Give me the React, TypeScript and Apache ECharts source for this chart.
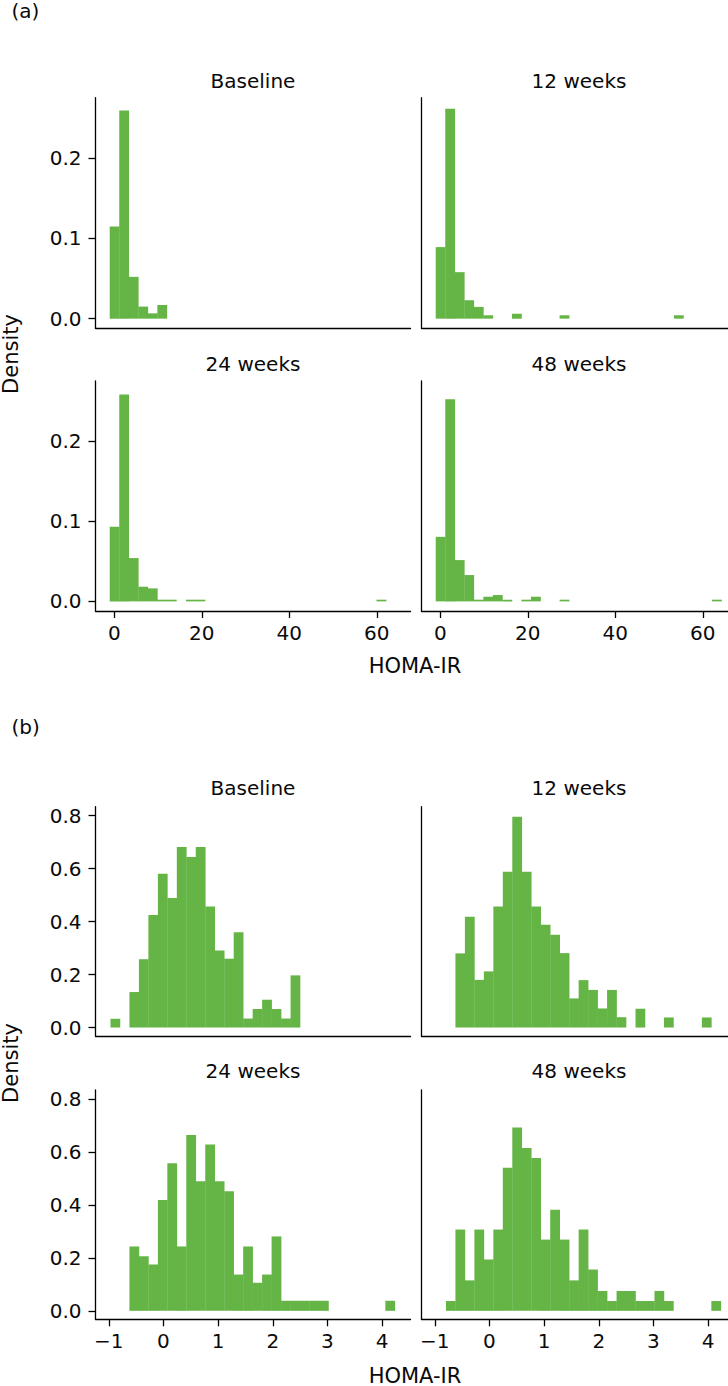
import { useEffect, useRef } from 'react';
import * as echarts from 'echarts';

const FACETS = ['Baseline', '12 weeks', '24 weeks', '48 weeks'];

// ---- Panel (a): HOMA-IR histograms (density), 30 shared bins ----
const A_BIN_START = -1.05;
const A_BIN_WIDTH = 2.178;
const A_BASELINE = [0.1146, 0.259, 0.052, 0.015, 0.0066, 0.017, 0, 0, 0, 0, 0, 0, 0, 0, 0, 0, 0, 0, 0, 0, 0, 0, 0, 0, 0, 0, 0, 0, 0, 0];
const A_WEEK12 = [0.089, 0.261, 0.0578, 0.0229, 0.0146, 0.0042, 0, 0, 0.0062, 0, 0, 0, 0, 0.0042, 0, 0, 0, 0, 0, 0, 0, 0, 0, 0, 0, 0.0042, 0, 0, 0, 0];
const A_WEEK24 = [0.093, 0.258, 0.054, 0.0183, 0.0162, 0.0021, 0.0021, 0, 0.0021, 0.0021, 0, 0, 0, 0, 0, 0, 0, 0, 0, 0, 0, 0, 0, 0, 0, 0, 0, 0, 0.0021, 0];
const A_WEEK48 = [0.0805, 0.252, 0.0515, 0.0328, 0.0021, 0.0058, 0.0079, 0.0021, 0, 0.0021, 0.0058, 0, 0, 0.0021, 0, 0, 0, 0, 0, 0, 0, 0, 0, 0, 0, 0, 0, 0, 0, 0.0021];
const A_X_TICKS = [0, 20, 40, 60];
const A_Y_TICKS = [0, 0.1, 0.2];

// ---- Panel (b): log HOMA-IR histograms (density), 30 shared bins ----
const B_BIN_START = -0.969;
const B_BIN_WIDTH = 0.1734;
const B_BASELINE = [0.033, 0, 0.134, 0.258, 0.425, 0.581, 0.489, 0.682, 0.644, 0.682, 0.457, 0.291, 0.26, 0.36, 0.034, 0.07, 0.105, 0.07, 0.034, 0.197, 0, 0, 0, 0, 0, 0, 0, 0, 0, 0];
const B_WEEK12 = [0, 0, 0.28, 0.418, 0.18, 0.212, 0.457, 0.588, 0.796, 0.588, 0.457, 0.388, 0.35, 0.281, 0.11, 0.179, 0.142, 0.072, 0.142, 0.039, 0, 0.071, 0, 0, 0.038, 0, 0, 0, 0.038, 0];
const B_WEEK24 = [0, 0, 0.243, 0.206, 0.175, 0.419, 0.557, 0.243, 0.664, 0.489, 0.628, 0.489, 0.452, 0.137, 0.243, 0.106, 0.137, 0.281, 0.038, 0.038, 0.038, 0.038, 0.038, 0, 0, 0, 0, 0, 0, 0.038];
const B_WEEK48 = [0, 0.037, 0.307, 0.115, 0.307, 0.194, 0.307, 0.54, 0.692, 0.615, 0.577, 0.269, 0.382, 0.269, 0.115, 0.307, 0.156, 0.075, 0.037, 0.075, 0.075, 0.037, 0.037, 0.075, 0.037, 0, 0, 0, 0, 0.037];
const B_X_TICKS = [-1, 0, 1, 2, 3, 4];
const B_Y_TICKS = [0, 0.2, 0.4, 0.6, 0.8];

const GREEN = '#64b446';
const INK = '#0a0a0a';
const FONT = 'DejaVu Sans';

const FIGURES = [
  {
    label: '(a)', labelY: 11,
    series: [A_BASELINE, A_WEEK12, A_WEEK24, A_WEEK48],
    binStart: A_BIN_START, binWidth: A_BIN_WIDTH,
    xMin: -4.3, xMax: 67.7, yMin: -0.012, yMax: 0.2748,
    xTicks: A_X_TICKS, yTicks: A_Y_TICKS,
    rows: [{ top: 97.7, h: 230.6, titleY: 80.7 }, { top: 381, h: 230, titleY: 363.7 }],
    densityY: 354, xTitleY: 665.6,
  },
  {
    label: '(b)', labelY: 727,
    series: [B_BASELINE, B_WEEK12, B_WEEK24, B_WEEK48],
    binStart: B_BIN_START, binWidth: B_BIN_WIDTH,
    xMin: -1.243, xMax: 4.52, yMin: -0.032, yMax: 0.834,
    xTicks: B_X_TICKS, yTicks: B_Y_TICKS,
    rows: [{ top: 806.7, h: 229.3, titleY: 788.3 }, { top: 1090, h: 229.3, titleY: 1071.3 }],
    densityY: 1063, xTitleY: 1375.5,
  },
];

const COLS = [95.5, 421.5];
const PANEL_W = 315;

function fmtX(v: number) {
  return v < 0 ? '\u2212' + Math.abs(v) : String(v);
}

function buildOption() {
  const grid: any[] = [];
  const xAxis: any[] = [];
  const yAxis: any[] = [];
  const series: any[] = [];
  const graphic: any[] = [];
  const textStyle = (size: number) => ({ fill: INK, font: `${size}px "${FONT}"` });

  FIGURES.forEach((fig) => {
    graphic.push({
      type: 'text', x: 11.5, y: fig.labelY,
      style: { ...textStyle(20), text: fig.label, textAlign: 'left', textVerticalAlign: 'middle' },
    });
    graphic.push({
      type: 'text', x: 11, y: fig.densityY, rotation: Math.PI / 2,
      style: { ...textStyle(21), text: 'Density', textAlign: 'center', textVerticalAlign: 'middle' },
    });
    graphic.push({
      type: 'text', x: 415, y: fig.xTitleY,
      style: { ...textStyle(21), text: 'HOMA-IR', textAlign: 'center', textVerticalAlign: 'middle' },
    });

    fig.series.forEach((vals, i) => {
      const row = fig.rows[i >> 1];
      const rowIdx = i >> 1;
      const col = i & 1;
      const gi = grid.length;
      grid.push({ left: COLS[col], top: row.top, width: PANEL_W, height: row.h, containLabel: false });
      graphic.push({
        type: 'text', x: COLS[col] + PANEL_W / 2, y: row.titleY,
        style: { ...textStyle(20), text: FACETS[i], textAlign: 'center', textVerticalAlign: 'middle' },
      });
      xAxis.push({
        type: 'value', gridIndex: gi, min: fig.xMin, max: fig.xMax,
        axisLine: { show: true, onZero: false, lineStyle: { color: '#000', width: 1.3 } },
        axisTick: { show: rowIdx === 1, length: 7, customValues: fig.xTicks, lineStyle: { color: '#000', width: 1.3 } },
        axisLabel: {
          show: rowIdx === 1, customValues: fig.xTicks, fontSize: 20, fontFamily: FONT, color: INK,
          margin: 12, formatter: (v: number) => fmtX(v),
        },
        splitLine: { show: false },
      });
      yAxis.push({
        type: 'value', gridIndex: gi, min: fig.yMin, max: fig.yMax,
        axisLine: { show: true, onZero: false, lineStyle: { color: '#000', width: 1.3 } },
        axisTick: { show: col === 0, length: 7, customValues: fig.yTicks, lineStyle: { color: '#000', width: 1.3 } },
        axisLabel: {
          show: col === 0, customValues: fig.yTicks, fontSize: 20, fontFamily: FONT, color: INK,
          margin: 14, formatter: (v: number) => v.toFixed(1),
        },
        splitLine: { show: false },
      });
      const data = vals
        .map((d, k) => [fig.binStart + k * fig.binWidth, fig.binStart + (k + 1) * fig.binWidth, d])
        .filter((d) => d[2] > 0);
      series.push({
        type: 'custom', name: FACETS[i], xAxisIndex: gi, yAxisIndex: gi,
        encode: { x: [0, 1], y: 2 },
        data,
        renderItem: (_p: any, api: any) => {
          const a = api.coord([api.value(0), api.value(2)]);
          const b = api.coord([api.value(1), 0]);
          return {
            type: 'rect',
            shape: { x: a[0], y: a[1], width: b[0] - a[0] + 0.3, height: b[1] - a[1] },
            style: { fill: GREEN },
          };
        },
      });
    });
  });

  return { animation: false, backgroundColor: '#ffffff', grid, xAxis, yAxis, series, graphic };
}

export default function App() {
  const ref = useRef<HTMLDivElement>(null);
  useEffect(() => {
    if (!ref.current) return;
    const chart = echarts.init(ref.current, undefined, { renderer: 'svg' });
    chart.setOption(buildOption() as any);
    return () => chart.dispose();
  }, []);
  return (
    <div style={{ position: 'absolute', left: 0, top: 0, width: 728, height: 1386, overflow: 'hidden', background: '#fff' }}>
      <div ref={ref} style={{ width: 742, height: 1386 }} />
    </div>
  );
}
